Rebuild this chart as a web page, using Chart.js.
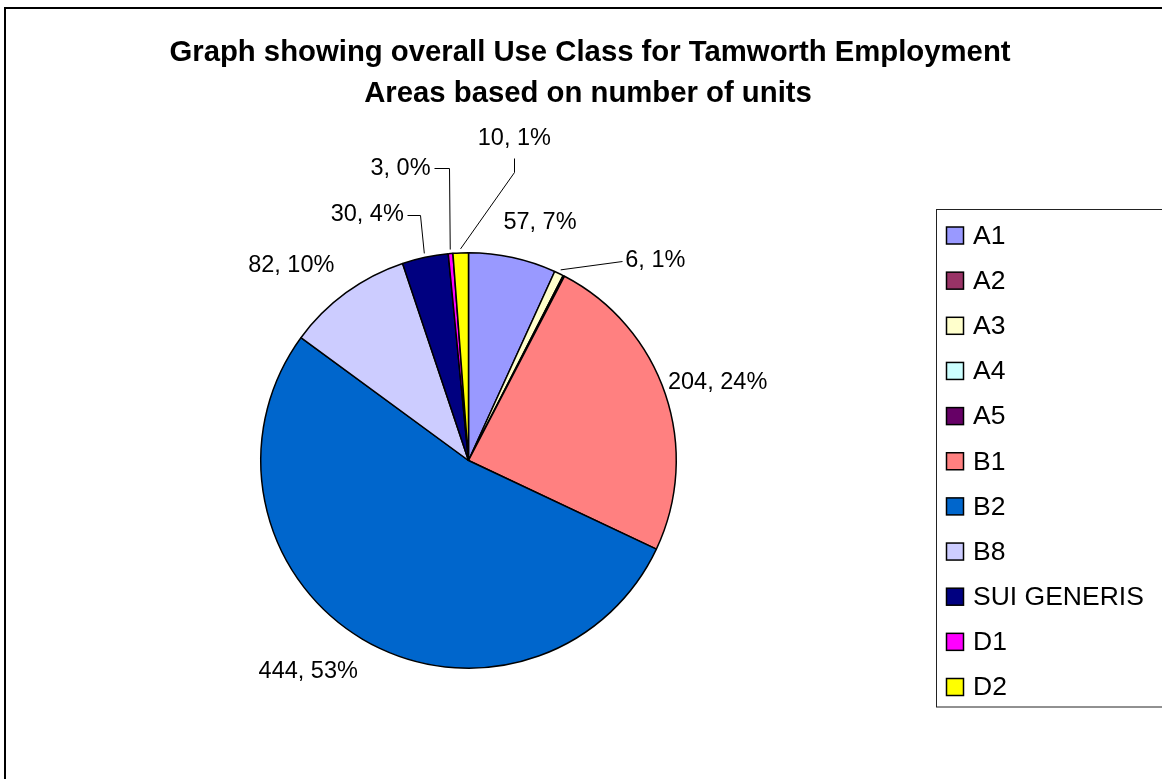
<!DOCTYPE html>
<html>
<head>
<meta charset="utf-8">
<title>Tamworth Employment Areas – Use Class</title>
<script src="https://cdn.jsdelivr.net/npm/chart.js@4.4.1/dist/chart.umd.min.js"></script>
<style>
  html, body { margin: 0; padding: 0; background: #ffffff; overflow: hidden; }
  canvas { display: block; }
</style>
</head>
<body>
<canvas id="useClassChart" width="1162" height="779"></canvas>
<script>
// Use classes and number of units in each
const categories = ['A1', 'A2', 'A3', 'A4', 'A5', 'B1', 'B2', 'B8', 'SUI GENERIS', 'D1', 'D2'];
const unitCounts = [57, 0, 6, 1, 0, 204, 444, 82, 30, 3, 10];
const sliceColours = ['#9999FF', '#993366', '#FFFFCC', '#CCFFFF', '#660066', '#FF8080',
                      '#0066CC', '#CCCCFF', '#000080', '#FF00FF', '#FFFF00'];
const titleLines = ['Graph showing overall Use Class for Tamworth Employment',
                    'Areas based on number of units'];

// Where each value label sits: distance as a multiple of the pie radius and
// bearing in degrees clockwise from 12 o'clock; optional leader line.
const labelLayout = {
  'A1':          { dist: 1.197, angle: 16.7 },
  'A3':          { dist: 1.316, angle: 43.1, leader: { side: 'left', stub: 0 } },
  'B1':          { dist: 1.256, angle: 72.7 },
  'B2':          { dist: 1.276, angle: 217.2 },
  'B8':          { dist: 1.270, angle: 317.8 },
  'SUI GENERIS': { dist: 1.279, angle: 337.6, leader: { side: 'right', stub: 13 } },
  'D1':          { dist: 1.444, angle: 346.9, leader: { side: 'right', stub: 15 } },
  'D2':          { dist: 1.567, angle: 8.1,   leader: { side: 'bottom', stub: 14 } }
};

const FONT = '"Liberation Sans", Arial, Helvetica, sans-serif';
const LABEL_SIZE = 23.5;

// Outer chart frame and the two-line title
const framePlugin = {
  id: 'frameAndTitle',
  beforeDraw(chart) {
    const ctx = chart.ctx;
    ctx.save();
    ctx.fillStyle = '#ffffff';
    ctx.fillRect(0, 0, chart.width, chart.height);
    ctx.strokeStyle = '#000000';
    ctx.lineWidth = 2;
    ctx.strokeRect(5, 8, 1400, 1000);
    ctx.fillStyle = '#000000';
    ctx.font = 'bold 29.3px ' + FONT;
    ctx.textAlign = 'center';
    ctx.textBaseline = 'alphabetic';
    ctx.fillText(titleLines[0], 590, 60.5);
    ctx.fillText(titleLines[1], 588, 101.5);
    ctx.restore();
  }
};

// Boxed legend on the right, one row per use class
const legendPlugin = {
  id: 'boxedLegend',
  afterDraw(chart) {
    const ctx = chart.ctx;
    const labels = chart.data.labels;
    const colours = chart.data.datasets[0].backgroundColor;
    ctx.save();
    ctx.strokeStyle = '#222222';
    ctx.lineWidth = 1;
    ctx.strokeRect(936.5, 209.5, 400, 497.5);
    ctx.font = '26.5px ' + FONT;
    ctx.textAlign = 'left';
    ctx.textBaseline = 'middle';
    labels.forEach((name, i) => {
      const cy = 235.5 + i * 45.15;
      ctx.fillStyle = colours[i];
      ctx.fillRect(946.5, cy - 8.5, 17, 17);
      ctx.strokeStyle = '#000000';
      ctx.lineWidth = 1.5;
      ctx.strokeRect(946.5, cy - 8.5, 17, 17);
      ctx.fillStyle = '#000000';
      ctx.fillText(name, 973, cy + 1);
    });
    ctx.restore();
  }
};

// "value, percent" labels around the pie, with leader lines where needed
const valueLabelPlugin = {
  id: 'valueLabels',
  afterDatasetsDraw(chart) {
    const ctx = chart.ctx;
    const meta = chart.getDatasetMeta(0);
    const values = chart.data.datasets[0].data;
    const total = values.reduce((a, b) => a + b, 0);
    ctx.save();
    ctx.font = LABEL_SIZE + 'px ' + FONT;
    ctx.fillStyle = '#000000';
    ctx.strokeStyle = '#000000';
    ctx.lineWidth = 1;
    ctx.textAlign = 'center';
    ctx.textBaseline = 'middle';
    meta.data.forEach((arc, i) => {
      const spot = labelLayout[chart.data.labels[i]];
      if (!spot || !values[i]) return;
      const cx = arc.x, cy = arc.y, r = arc.outerRadius;
      const a = (spot.angle - 90) * Math.PI / 180;
      const lx = cx + r * spot.dist * Math.cos(a);
      const ly = cy + r * spot.dist * Math.sin(a);
      const text = values[i] + ', ' + Math.round(values[i] / total * 100) + '%';
      ctx.fillText(text, lx, ly);
      if (spot.leader) {
        const w = ctx.measureText(text).width;
        let sx, sy, ex, ey;
        if (spot.leader.side === 'left') {
          sx = lx - w / 2 - 3; sy = ly; ex = sx - spot.leader.stub; ey = sy;
        } else if (spot.leader.side === 'right') {
          sx = lx + w / 2 + 3; sy = ly; ex = sx + spot.leader.stub; ey = sy;
        } else {
          sx = lx; sy = ly + 20; ex = sx; ey = sy + spot.leader.stub;
        }
        const mid = (arc.startAngle + arc.endAngle) / 2;
        const px = cx + (r + 4) * Math.cos(mid);
        const py = cy + (r + 4) * Math.sin(mid);
        ctx.beginPath();
        ctx.moveTo(Math.round(sx) + 0.5, Math.round(sy) + 0.5);
        ctx.lineTo(Math.round(ex) + 0.5, Math.round(ey) + 0.5);
        ctx.lineTo(px, py);
        ctx.stroke();
      }
    });
    ctx.restore();
  }
};

new Chart(document.getElementById('useClassChart'), {
  type: 'pie',
  data: {
    labels: categories,
    datasets: [{
      data: unitCounts,
      backgroundColor: sliceColours,
      borderColor: '#000000',
      borderWidth: 1.5
    }]
  },
  options: {
    responsive: false,
    animation: false,
    devicePixelRatio: 1,
    events: [],
    layout: { padding: { left: 260, top: 252, right: 485, bottom: 110 } },
    plugins: {
      legend: { display: false },
      title: { display: false },
      tooltip: { enabled: false }
    }
  },
  plugins: [framePlugin, legendPlugin, valueLabelPlugin]
});
</script>
</body>
</html>
